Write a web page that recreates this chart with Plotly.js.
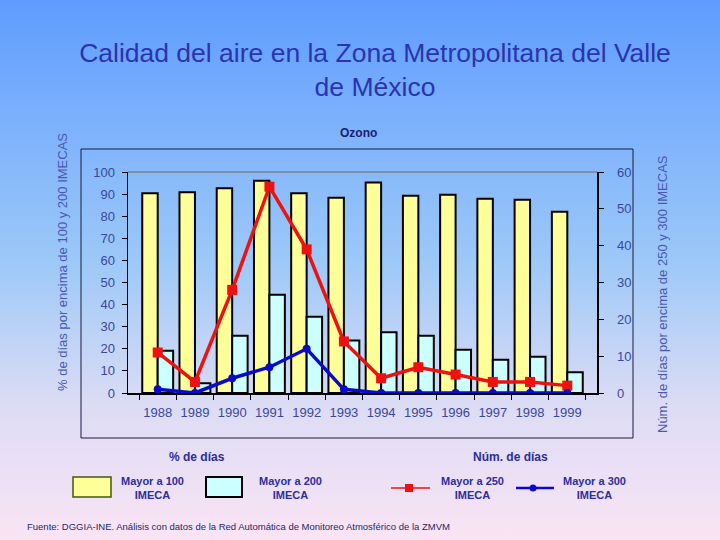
<!DOCTYPE html>
<html>
<head>
<meta charset="utf-8">
<script src="https://cdn.plot.ly/plotly-3.0.1.min.js"></script>
<style>
  html, body { margin:0; padding:0; }
  body { width:720px; height:540px; background: linear-gradient(to bottom, #5f9cff 0%, #9cc8f8 48%, #dcdcf4 75%, #fae4f4 100%); }
  #chart { width:720px; height:540px; }
</style>
</head>
<body>
<div id="chart"></div>
<script>
// ---- data ----
const years = ['1988','1989','1990','1991','1992','1993','1994','1995','1996','1997','1998','1999'];
const pctMayor100 = [90.4, 90.8, 92.6, 96, 90.4, 88.4, 95.2, 89.3, 89.7, 87.9, 87.5, 82];
const pctMayor200 = [19.1, 4.4, 25.9, 44.5, 34.5, 23.7, 27.5, 25.9, 19.6, 15.1, 16.4, 9.4];
const diasMayor250 = [11, 3, 28, 56, 39, 14, 4, 7, 5, 3, 3, 2];
const diasMayor300 = [1, 0, 4, 7, 12, 1, 0, 0, 0, 0, 0, 0];
const leftTicks = [0,10,20,30,40,50,60,70,80,90,100];
const rightTicks = [0,10,20,30,40,50,60];

// ---- layout helpers (pixel -> paper) ----
const L = 128, R = 597, T = 172, B = 393;
const px = x => (x - L) / (R - L);
const py = y => (B - y) / (B - T);

const navy = '#2a2f9a';
const tickCol = '#3a4898';
const font = 'Liberation Sans, Arial, sans-serif';

const traces = [
  { type:'bar', x: years, y: pctMayor100, name:'Mayor a 100 IMECA',
    marker:{color:'#ffff99', line:{color:'#000000', width:2}}, yaxis:'y' },
  { type:'bar', x: years, y: pctMayor200, name:'Mayor a 200 IMECA',
    marker:{color:'#ccffff', line:{color:'#000000', width:2}}, yaxis:'y' },
  { type:'scatter', mode:'lines+markers', x: years, y: diasMayor250, name:'Mayor a 250 IMECA',
    line:{color:'#ee1111', width:3.5}, marker:{color:'#ee1111', symbol:'square', size:10}, yaxis:'y2' },
  { type:'scatter', mode:'lines+markers', x: years, y: diasMayor300, name:'Mayor a 300 IMECA',
    line:{color:'#0a0acc', width:3.5}, marker:{color:'#0a0acc', symbol:'circle', size:8}, yaxis:'y2' }
];

const shapes = [
  // outer chart frame
  {type:'rect', xref:'paper', yref:'paper', x0:px(81), x1:px(633), y0:py(149), y1:py(438), line:{color:'#1a1a40', width:1}},
  // top gray line of plot area
  {type:'line', xref:'paper', yref:'paper', x0:0, x1:1, y0:1, y1:1, line:{color:'#7a8090', width:1.5}},
  // legend boxes
  {type:'rect', xref:'paper', yref:'paper', x0:px(73), x1:px(111), y0:py(477), y1:py(497), fillcolor:'#ffff99', line:{color:'#3f5a10', width:1.5}},
  {type:'rect', xref:'paper', yref:'paper', x0:px(206), x1:px(242), y0:py(477), y1:py(497), fillcolor:'#ccffff', line:{color:'#000000', width:2}},
  // legend lines
  {type:'line', xref:'paper', yref:'paper', x0:px(391), x1:px(430), y0:py(488), y1:py(488), line:{color:'#ee1111', width:1.5}},
  {type:'rect', xref:'paper', yref:'paper', x0:px(405), x1:px(413), y0:py(492), y1:py(484), fillcolor:'#ee1111', line:{color:'#ee1111', width:0}},
  {type:'line', xref:'paper', yref:'paper', x0:px(516), x1:px(554), y0:py(488), y1:py(488), line:{color:'#0a0acc', width:2.5}},
  {type:'circle', xref:'paper', yref:'paper', x0:px(529.5), x1:px(536.5), y0:py(491.5), y1:py(484.5), fillcolor:'#0a0acc', line:{color:'#0a0acc', width:0}}
];

const ann = (text, x, y, opts={}) => Object.assign({
  text, xref:'paper', yref:'paper', x:px(x), y:py(y), showarrow:false,
  xanchor:'center', yanchor:'middle', font:{family:font, size:12, color:navy}
}, opts);

const annotations = [
  ann('<b>Ozono</b>', 358, 133, {font:{family:font, size:12, color:'#1a2070'}}),
  ann('% de días por encima de 100 y 200 IMECAS', 62, 262, {textangle:-90, font:{family:font, size:13, color:'#4a58b0'}}),
  ann('Núm. de días por encima de 250 y 300 IMECAS', 662, 294, {textangle:-90, font:{family:font, size:13, color:'#4a58b0'}}),
  ann('<b>% de días</b>', 197, 457, {font:{family:font, size:12, color:navy}}),
  ann('<b>Núm. de días</b>', 510, 457, {font:{family:font, size:12, color:navy}}),
  ann('<b>Mayor a 100<br>IMECA</b>', 152, 488, {font:{family:font, size:11, color:navy}}),
  ann('<b>Mayor a 200<br>IMECA</b>', 290, 488, {font:{family:font, size:11, color:navy}}),
  ann('<b>Mayor a 250<br>IMECA</b>', 472, 488, {font:{family:font, size:11, color:navy}}),
  ann('<b>Mayor a 300<br>IMECA</b>', 594, 488, {font:{family:font, size:11, color:navy}}),
  ann('Fuente: DGGIA-INE. Análisis con datos de la Red Automática de Monitoreo Atmosférico de la ZMVM', 25, 526,
      {xanchor:'left', font:{family:font, size:9.5, color:'#22286a'}})
];

const layout = {
  width:720, height:540,
  margin:{l:L, r:720-R, t:T, b:540-B, pad:0},
  paper_bgcolor:'rgba(0,0,0,0)', plot_bgcolor:'rgba(0,0,0,0)',
  showlegend:false,
  barmode:'group', bargap:0.17, bargroupgap:0,
  title:{text:'Calidad del aire en la Zona Metropolitana del Valle<br>de México',
         x:375/720, xanchor:'center', y:1-62/540, yanchor:'middle',
         font:{family:font, size:26.5, color:'#2a34b0'}},
  xaxis:{type:'category', tickson:'boundaries', ticks:'outside', ticklen:5, tickcolor:'#000', tickangle:0,
         showline:true, linecolor:'#000', linewidth:1.5, showgrid:false, zeroline:false, ticklabelstandoff:7,
         tickfont:{family:font, size:13, color:tickCol}, fixedrange:true},
  yaxis:{range:[0,100], tickvals:leftTicks, ticks:'outside', ticklen:5, tickcolor:'#000',
         showline:true, linecolor:'#000', linewidth:1.5, showgrid:false, zeroline:false,
         tickfont:{family:font, size:13, color:tickCol}, ticklabelstandoff:4},
  yaxis2:{range:[0,60], tickvals:rightTicks, overlaying:'y', side:'right', ticks:'outside', ticklen:5, tickcolor:'#000',
         showline:true, linecolor:'#000', linewidth:1.5, showgrid:false, zeroline:false,
         tickfont:{family:font, size:13, color:tickCol}, ticklabelstandoff:11},
  shapes, annotations
};

Plotly.newPlot('chart', traces, layout, {displayModeBar:false, staticPlot:true});
</script>
</body>
</html>
